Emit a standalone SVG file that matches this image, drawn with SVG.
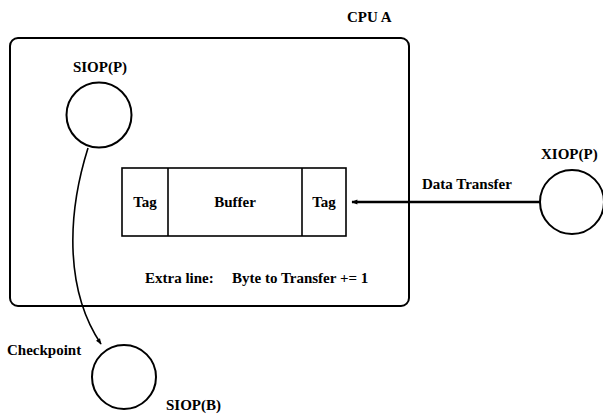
<svg xmlns="http://www.w3.org/2000/svg" width="603" height="414" viewBox="0 0 603 414">
<style>
text{font-family:"Liberation Serif","Times New Roman",serif;font-weight:bold;font-size:15px;fill:#000}
.node{fill:none;stroke:#000;stroke-width:2}
.buf{fill:none;stroke:#000;stroke-width:1.6}
.conn{fill:none;stroke:#000}
</style>
<defs>
<marker id="ah" viewBox="0 0 10 10" refX="9" refY="5" markerWidth="7" markerHeight="6" orient="auto" markerUnits="userSpaceOnUse">
<path d="M0,1 L10,5 L0,9 Z" fill="#000"/>
</marker>
</defs>
<rect width="603" height="414" fill="#fff"/>
<g id="cpu-a">
<rect class="node" x="10" y="38" width="399" height="268" rx="8"/>
<text x="347" y="22">CPU A</text>
<text y="283"><tspan x="145">Extra line:</tspan><tspan x="232">Byte to Transfer += 1</tspan></text>
</g>
<g id="buffer">
<rect class="buf" x="122" y="168" width="224" height="68"/>
<line class="buf" x1="168" y1="168" x2="168" y2="236"/>
<line class="buf" x1="302" y1="168" x2="302" y2="236"/>
<text x="145" y="207" text-anchor="middle">Tag</text>
<text x="235" y="207" text-anchor="middle">Buffer</text>
<text x="324" y="207" text-anchor="middle">Tag</text>
</g>
<g id="siop-p">
<circle class="node" cx="99" cy="115" r="32.5"/>
<text x="100" y="72" text-anchor="middle">SIOP(P)</text>
</g>
<g id="xiop-p">
<circle class="node" cx="572" cy="202" r="32"/>
<text x="541" y="159">XIOP(P)</text>
</g>
<g id="siop-b">
<circle class="node" cx="124" cy="377" r="32"/>
<text x="166" y="410">SIOP(B)</text>
</g>
<g id="connectors">
<line class="conn" x1="540" y1="202" x2="352" y2="202" stroke-width="2.5" marker-end="url(#ah)"/>
<text x="422" y="189">Data Transfer</text>
<path class="conn" d="M88,148 C66,218 66,292 101,344" stroke-width="1.6" marker-end="url(#ah)"/>
<text x="7" y="355">Checkpoint</text>
</g>
</svg>
